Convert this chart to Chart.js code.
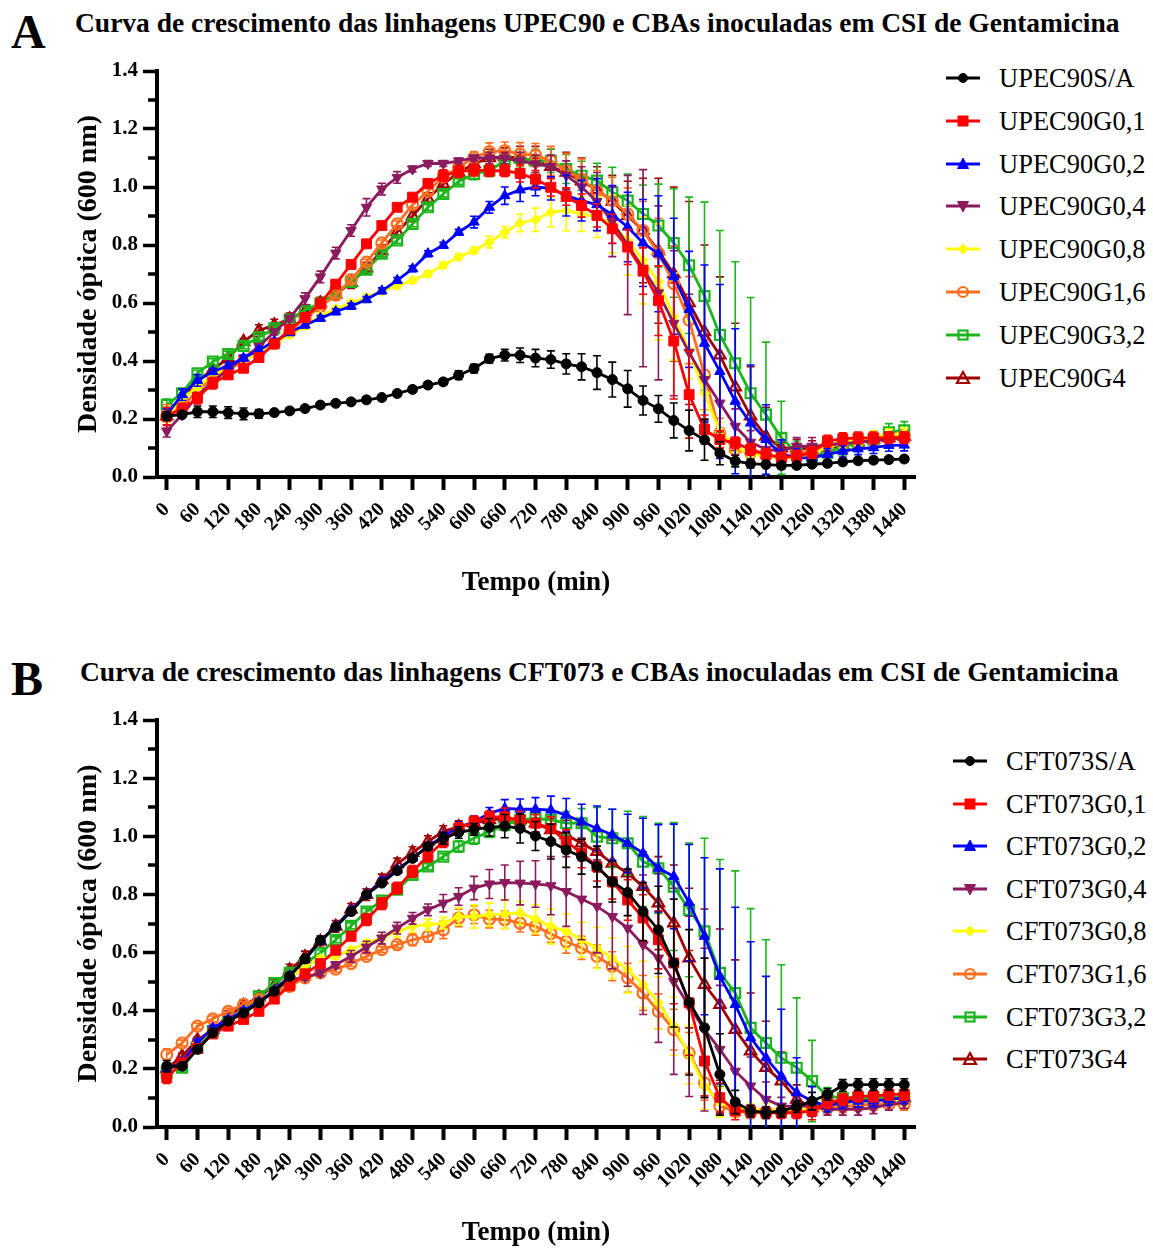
<!DOCTYPE html>
<html><head><meta charset="utf-8">
<script src="https://cdn.jsdelivr.net/npm/chart.js@4.4.1/dist/chart.umd.min.js"></script>
<style>
html,body{margin:0;padding:0;background:#fff;}
body{width:1153px;height:1250px;position:relative;overflow:hidden;font-family:"Liberation Serif","Times New Roman",serif;color:#000;}
.txt{position:absolute;white-space:nowrap;line-height:1;transform-origin:0 50%;}
.panel{font-weight:bold;font-size:48px;}
.title{font-weight:bold;font-size:27.5px;}
.legtext{font-size:26.5px;}
.legicon{position:absolute;}
canvas{position:absolute;left:0;}
</style></head><body>
<div class="txt panel" style="left:11px;top:8px">A</div>
<div class="txt title" style="left:75px;top:9px">Curva de crescimento das linhagens UPEC90 e CBAs inoculadas em CSI de Gentamicina</div>
<div class="txt panel" style="left:11px;top:655px">B</div>
<div class="txt title" style="left:80px;top:658px">Curva de crescimento das linhagens CFT073 e CBAs inoculadas em CSI de Gentamicina</div>
<canvas id="cA" width="935" height="600" style="top:0px"></canvas>
<canvas id="cB" width="935" height="600" style="top:650px"></canvas>
<div id="legA"></div>
<div id="legB"></div>
<script>
// ---------- DATA ----------
const TIMES = [0,30,60,90,120,150,180,210,240,270,300,330,360,390,420,450,480,510,540,570,600,630,660,690,720,750,780,810,840,870,900,930,960,990,1020,1050,1080,1110,1140,1170,1200,1230,1260,1290,1320,1350,1380,1410,1440];
const X_TICKS = [0,60,120,180,240,300,360,420,480,540,600,660,720,780,840,900,960,1020,1080,1140,1200,1260,1320,1380,1440];
const Y_MINOR = [0.1,0.3,0.5,0.7,0.9,1.1,1.3];

const NAMES_A = ['UPEC90S/A','UPEC90G0,1','UPEC90G0,2','UPEC90G0,4','UPEC90G0,8','UPEC90G1,6','UPEC90G3,2','UPEC90G4'];
const NAMES_B = ['CFT073S/A','CFT073G0,1','CFT073G0,2','CFT073G0,4','CFT073G0,8','CFT073G1,6','CFT073G3,2','CFT073G4'];

// Panel A means
const A_SA = [0.21,0.215,0.225,0.225,0.222,0.218,0.218,0.222,0.228,0.236,
 0.248,0.254,0.259,0.266,0.274,0.288,0.302,0.317,0.328,0.351,
 0.374,0.408,0.42,0.42,0.41,0.405,0.39,0.38,0.36,0.336,
 0.304,0.264,0.235,0.195,0.16,0.128,0.082,0.055,0.046,0.043,
 0.04,0.04,0.044,0.047,0.052,0.056,0.058,0.06,0.062];
const A_G01 = [0.21,0.235,0.272,0.324,0.352,0.375,0.412,0.459,0.509,0.55,
 0.598,0.665,0.733,0.804,0.867,0.93,0.965,1.012,1.039,1.053,
 1.058,1.056,1.056,1.047,1.027,0.999,0.967,0.936,0.902,0.856,
 0.793,0.71,0.608,0.469,0.284,0.164,0.129,0.118,0.095,0.078,
 0.066,0.072,0.084,0.124,0.132,0.135,0.135,0.136,0.136];
const A_G02 = [0.215,0.284,0.333,0.364,0.383,0.41,0.438,0.467,0.498,0.524,
 0.547,0.57,0.589,0.612,0.642,0.678,0.718,0.77,0.799,0.844,
 0.879,0.93,0.97,0.99,1.0,0.995,0.97,0.953,0.939,0.905,
 0.862,0.807,0.77,0.692,0.578,0.461,0.364,0.261,0.186,0.129,
 0.078,0.066,0.066,0.078,0.089,0.097,0.101,0.109,0.11];
const A_G04 = [0.158,0.215,0.28,0.33,0.37,0.41,0.45,0.5,0.547,0.615,
 0.69,0.772,0.85,0.93,0.993,1.033,1.062,1.081,1.081,1.09,
 1.1,1.1,1.1,1.09,1.08,1.07,1.04,1.0,0.95,0.88,
 0.8,0.72,0.635,0.53,0.43,0.336,0.255,0.175,0.12,0.095,
 0.09,0.106,0.106,0.11,0.115,0.12,0.125,0.13,0.135];
const A_G08 = [0.21,0.27,0.31,0.35,0.38,0.4,0.43,0.46,0.49,0.52,
 0.555,0.58,0.6,0.62,0.64,0.66,0.678,0.701,0.73,0.759,
 0.781,0.81,0.844,0.876,0.887,0.913,0.919,0.907,0.896,0.873,
 0.816,0.747,0.673,0.553,0.438,0.289,0.158,0.106,0.078,0.072,
 0.066,0.066,0.084,0.1,0.12,0.13,0.14,0.145,0.15];
const A_G16 = [0.21,0.24,0.3,0.34,0.37,0.4,0.43,0.46,0.5,0.547,
 0.587,0.627,0.681,0.741,0.807,0.873,0.939,0.985,1.035,1.068,
 1.102,1.122,1.125,1.113,1.11,1.09,1.056,1.027,0.987,0.953,
 0.907,0.85,0.772,0.667,0.541,0.352,0.152,0.095,0.085,0.075,
 0.07,0.08,0.09,0.11,0.12,0.125,0.13,0.135,0.14];
const A_G32 = [0.249,0.289,0.358,0.398,0.424,0.452,0.482,0.513,0.543,0.576,
 0.598,0.635,0.673,0.715,0.77,0.816,0.873,0.93,0.976,1.019,
 1.045,1.056,1.09,1.1,1.09,1.09,1.062,1.039,1.022,0.982,
 0.953,0.907,0.867,0.807,0.73,0.624,0.49,0.392,0.289,0.215,
 0.135,0.084,0.072,0.084,0.106,0.118,0.129,0.154,0.161];
const A_G4 = [0.21,0.27,0.33,0.37,0.41,0.467,0.505,0.524,0.545,0.57,
 0.6,0.63,0.67,0.72,0.78,0.845,0.9,0.96,1.01,1.05,
 1.08,1.1,1.105,1.1,1.09,1.07,1.05,1.02,0.99,0.95,
 0.9,0.85,0.78,0.7,0.6,0.5,0.42,0.31,0.21,0.14,
 0.1,0.1,0.095,0.1,0.11,0.12,0.13,0.135,0.14];

// Panel A standard deviations
const A_SA_SD = [0.015,0.01,0.02,0.02,0.02,0.02,0.015,0.01,0.01,0.01,
 0.01,0.01,0.01,0.01,0.01,0.01,0.01,0.01,0.01,0.015,
 0.015,0.015,0.02,0.025,0.03,0.03,0.035,0.045,0.058,0.06,
 0.063,0.05,0.046,0.06,0.07,0.07,0.04,0.02,0.015,0.01,
 0.01,0.01,0.01,0.01,0.01,0.01,0.01,0.01,0.01];
const A_G01_SD = [0.03,0.02,0.02,0.02,0.01,0.01,0.01,0.01,0.01,0.01,
 0.01,0.01,0.01,0.01,0.01,0.01,0.01,0.01,0.02,0.02,
 0.02,0.02,0.02,0.03,0.03,0.03,0.03,0.04,0.04,0.05,
 0.06,0.08,0.12,0.2,0.15,0.05,0.03,0.02,0.02,0.02,
 0.02,0.02,0.02,0.02,0.02,0.02,0.02,0.02,0.02];
const A_G02_SD = [0.02,0.02,0.02,0.01,0.01,0.01,0.01,0.01,0.01,0.01,
 0.01,0.01,0.01,0.01,0.01,0.01,0.01,0.01,0.01,0.01,
 0.02,0.02,0.03,0.04,0.03,0.04,0.07,0.07,0.09,0.1,
 0.12,0.15,0.2,0.2,0.2,0.27,0.3,0.25,0.2,0.12,
 0.05,0.03,0.02,0.02,0.02,0.02,0.02,0.02,0.02];
const A_G04_SD = [0.02,0.01,0.01,0.01,0.01,0.01,0.01,0.01,0.01,0.02,
 0.02,0.02,0.02,0.03,0.02,0.02,0.01,0.01,0.01,0.01,
 0.01,0.02,0.02,0.03,0.03,0.04,0.05,0.07,0.1,0.12,
 0.24,0.34,0.3,0.25,0.2,0.15,0.1,0.06,0.04,0.03,
 0.03,0.03,0.03,0.02,0.02,0.02,0.02,0.02,0.02];
const A_G08_SD = [0.02,0.01,0.01,0.01,0.01,0.01,0.01,0.01,0.01,0.01,
 0.01,0.01,0.01,0.01,0.01,0.01,0.01,0.01,0.01,0.01,
 0.01,0.02,0.02,0.03,0.04,0.05,0.07,0.06,0.07,0.1,
 0.12,0.15,0.2,0.15,0.1,0.06,0.03,0.02,0.02,0.02,
 0.02,0.02,0.02,0.02,0.02,0.02,0.02,0.02,0.02];
const A_G16_SD = [0.04,0.02,0.02,0.01,0.01,0.01,0.01,0.01,0.01,0.01,
 0.01,0.01,0.01,0.01,0.01,0.01,0.01,0.01,0.01,0.01,
 0.02,0.03,0.03,0.04,0.04,0.05,0.06,0.07,0.07,0.08,
 0.09,0.1,0.12,0.13,0.15,0.12,0.05,0.02,0.02,0.02,
 0.02,0.02,0.02,0.02,0.02,0.02,0.02,0.02,0.02];
const A_G32_SD = [0.02,0.01,0.01,0.01,0.01,0.01,0.01,0.01,0.01,0.01,
 0.01,0.01,0.01,0.01,0.01,0.01,0.01,0.01,0.01,0.01,
 0.02,0.02,0.03,0.03,0.04,0.04,0.05,0.05,0.06,0.086,
 0.092,0.1,0.143,0.187,0.235,0.324,0.36,0.35,0.33,0.25,
 0.126,0.04,0.03,0.03,0.03,0.03,0.03,0.03,0.03];
const A_G4_SD = [0.02,0.01,0.01,0.01,0.01,0.01,0.02,0.02,0.02,0.02,
 0.02,0.02,0.02,0.02,0.02,0.02,0.02,0.02,0.02,0.02,
 0.02,0.03,0.03,0.04,0.05,0.06,0.07,0.08,0.08,0.09,
 0.12,0.18,0.25,0.3,0.35,0.3,0.27,0.22,0.17,0.1,
 0.05,0.03,0.03,0.02,0.02,0.02,0.02,0.02,0.02];

// Panel B means
const B_SA = [0.209,0.209,0.267,0.324,0.364,0.392,0.427,0.467,0.518,0.578,
 0.642,0.688,0.741,0.799,0.839,0.882,0.924,0.965,0.993,1.013,
 1.024,1.031,1.035,1.027,1.001,0.982,0.953,0.93,0.896,0.844,
 0.807,0.741,0.678,0.564,0.429,0.341,0.181,0.086,0.055,0.049,
 0.055,0.07,0.089,0.112,0.143,0.146,0.146,0.146,0.146];
const B_G01 = [0.17,0.22,0.27,0.32,0.347,0.37,0.398,0.44,0.486,0.527,
 0.562,0.608,0.656,0.713,0.768,0.822,0.879,0.932,0.982,1.027,
 1.05,1.067,1.067,1.056,1.045,1.027,0.982,0.942,0.896,0.844,
 0.781,0.719,0.644,0.564,0.427,0.227,0.101,0.055,0.055,0.049,
 0.049,0.049,0.055,0.084,0.095,0.106,0.106,0.112,0.112];
const B_G02 = [0.2,0.22,0.29,0.34,0.37,0.4,0.43,0.47,0.52,0.575,
 0.64,0.69,0.745,0.8,0.845,0.885,0.925,0.965,1.0,1.03,
 1.05,1.079,1.096,1.093,1.093,1.09,1.073,1.05,1.027,1.005,
 0.976,0.942,0.89,0.862,0.772,0.656,0.518,0.421,0.307,0.238,
 0.175,0.118,0.089,0.072,0.084,0.089,0.09,0.095,0.1];
const B_G04 = [0.19,0.23,0.295,0.335,0.37,0.398,0.432,0.467,0.507,0.515,
 0.53,0.558,0.587,0.619,0.65,0.684,0.718,0.747,0.77,0.793,
 0.822,0.836,0.841,0.839,0.836,0.83,0.81,0.784,0.759,0.724,
 0.684,0.627,0.581,0.501,0.415,0.335,0.267,0.192,0.141,0.095,
 0.072,0.072,0.072,0.061,0.061,0.061,0.066,0.078,0.084];
const B_G08 = [0.19,0.22,0.29,0.335,0.37,0.4,0.43,0.465,0.51,0.553,
 0.58,0.587,0.61,0.633,0.65,0.673,0.69,0.696,0.701,0.724,
 0.724,0.73,0.733,0.736,0.715,0.69,0.673,0.644,0.616,0.581,
 0.541,0.49,0.427,0.347,0.249,0.141,0.084,0.066,0.061,0.06,
 0.06,0.06,0.066,0.072,0.08,0.085,0.09,0.095,0.095];
const B_G16 = [0.249,0.289,0.347,0.372,0.398,0.421,0.438,0.463,0.484,0.513,
 0.53,0.543,0.562,0.587,0.61,0.627,0.644,0.656,0.678,0.719,
 0.73,0.715,0.713,0.701,0.69,0.665,0.638,0.616,0.587,0.553,
 0.513,0.461,0.398,0.335,0.255,0.152,0.072,0.055,0.049,0.05,
 0.05,0.055,0.06,0.065,0.07,0.075,0.078,0.078,0.078];
const B_G32 = [0.187,0.204,0.272,0.33,0.37,0.4,0.45,0.495,0.53,0.564,
 0.598,0.644,0.692,0.741,0.779,0.816,0.867,0.896,0.93,0.965,
 0.993,1.016,1.039,1.056,1.062,1.056,1.045,1.045,0.999,0.993,
 0.976,0.913,0.89,0.827,0.747,0.673,0.53,0.461,0.341,0.289,
 0.238,0.204,0.158,0.106,0.1,0.1,0.1,0.1,0.1];
const B_G4 = [0.2,0.244,0.3,0.335,0.38,0.418,0.447,0.486,0.54,0.585,
 0.638,0.69,0.749,0.799,0.85,0.905,0.944,0.982,1.016,1.033,
 1.045,1.056,1.062,1.056,1.045,1.022,1.005,0.976,0.947,0.907,
 0.873,0.827,0.77,0.701,0.581,0.49,0.421,0.335,0.261,0.204,
 0.158,0.095,0.066,0.084,0.09,0.095,0.1,0.1,0.1];

// Panel B standard deviations
const B_SA_SD = [0.02,0.01,0.01,0.01,0.01,0.01,0.01,0.01,0.01,0.01,
 0.01,0.01,0.01,0.01,0.01,0.01,0.01,0.01,0.02,0.02,
 0.02,0.03,0.04,0.05,0.05,0.06,0.06,0.06,0.07,0.07,
 0.08,0.1,0.15,0.22,0.25,0.24,0.14,0.04,0.02,0.02,
 0.02,0.02,0.03,0.02,0.02,0.02,0.02,0.02,0.02];
const B_G01_SD = [0.02,0.01,0.01,0.01,0.01,0.01,0.01,0.01,0.01,0.01,
 0.01,0.01,0.01,0.02,0.02,0.02,0.02,0.02,0.02,0.02,
 0.02,0.02,0.03,0.03,0.03,0.04,0.04,0.05,0.05,0.06,
 0.07,0.08,0.1,0.14,0.18,0.12,0.05,0.03,0.02,0.02,
 0.02,0.02,0.03,0.02,0.02,0.02,0.02,0.02,0.02];
const B_G02_SD = [0.02,0.01,0.01,0.01,0.01,0.01,0.01,0.01,0.01,0.01,
 0.01,0.01,0.01,0.01,0.01,0.01,0.01,0.01,0.01,0.02,
 0.02,0.02,0.03,0.035,0.04,0.048,0.057,0.06,0.077,0.088,
 0.1,0.12,0.15,0.18,0.2,0.27,0.37,0.335,0.33,0.28,
 0.23,0.12,0.05,0.02,0.02,0.02,0.02,0.02,0.02];
const B_G04_SD = [0.02,0.01,0.01,0.01,0.01,0.01,0.01,0.01,0.01,0.01,
 0.01,0.01,0.02,0.02,0.02,0.02,0.02,0.02,0.03,0.03,
 0.04,0.05,0.06,0.075,0.08,0.1,0.12,0.14,0.16,0.18,
 0.2,0.24,0.29,0.32,0.31,0.28,0.22,0.15,0.1,0.06,
 0.03,0.02,0.02,0.02,0.02,0.02,0.02,0.02,0.02];
const B_G08_SD = [0.02,0.01,0.01,0.01,0.01,0.01,0.01,0.01,0.01,0.01,
 0.01,0.01,0.01,0.01,0.01,0.02,0.02,0.02,0.02,0.03,
 0.04,0.04,0.05,0.04,0.05,0.06,0.06,0.06,0.07,0.07,
 0.08,0.08,0.09,0.1,0.1,0.08,0.05,0.03,0.02,0.02,
 0.02,0.02,0.02,0.02,0.02,0.02,0.02,0.02,0.02];
const B_G16_SD = [0.02,0.01,0.01,0.01,0.01,0.01,0.01,0.01,0.01,0.01,
 0.01,0.01,0.01,0.01,0.01,0.01,0.02,0.02,0.03,0.03,
 0.03,0.03,0.03,0.03,0.03,0.03,0.04,0.04,0.04,0.05,
 0.05,0.06,0.06,0.07,0.07,0.06,0.03,0.02,0.02,0.02,
 0.02,0.02,0.02,0.02,0.02,0.02,0.02,0.02,0.02];
const B_G32_SD = [0.02,0.01,0.01,0.01,0.01,0.01,0.01,0.01,0.01,0.01,
 0.01,0.01,0.01,0.01,0.01,0.01,0.01,0.01,0.01,0.02,
 0.02,0.02,0.02,0.03,0.03,0.03,0.04,0.05,0.1,0.1,
 0.11,0.155,0.155,0.22,0.23,0.32,0.39,0.42,0.41,0.355,
 0.32,0.24,0.14,0.03,0.02,0.02,0.02,0.02,0.02];
const B_G4_SD = [0.02,0.01,0.01,0.01,0.02,0.02,0.02,0.02,0.02,0.02,
 0.02,0.02,0.02,0.02,0.02,0.02,0.02,0.02,0.02,0.02,
 0.02,0.02,0.03,0.03,0.03,0.04,0.05,0.06,0.07,0.08,
 0.1,0.12,0.16,0.2,0.24,0.26,0.26,0.24,0.2,0.16,
 0.1,0.05,0.03,0.02,0.02,0.02,0.02,0.02,0.02];

const MEANS_A = [A_SA,A_G01,A_G02,A_G04,A_G08,A_G16,A_G32,A_G4];
const SDS_A = [A_SA_SD,A_G01_SD,A_G02_SD,A_G04_SD,A_G08_SD,A_G16_SD,A_G32_SD,A_G4_SD];
const MEANS_B = [B_SA,B_G01,B_G02,B_G04,B_G08,B_G16,B_G32,B_G4];
const SDS_B = [B_SA_SD,B_G01_SD,B_G02_SD,B_G04_SD,B_G08_SD,B_G16_SD,B_G32_SD,B_G4_SD];

// ---------- STYLE ----------
const COLORS = ['#000000','#FF0000','#0000FF','#8B1A5E','#FFFF00','#FF6F1F','#1DB51D','#A00000'];
const OPEN = [false,false,false,false,false,true,true,true];
const STYLES = ['circle','rect','triangle','triangle','rectRot','circle','rect','triangle'];
const ROTS = [0,0,0,180,0,0,0,0];
const RADII = [5,7,6,6,5,5.5,7,6.5];
const FONT = '"Liberation Serif","Times New Roman",serif';

const errorBars = {
  id:'errorBars',
  beforeDatasetDraw(chart,args){
    const ds = chart.data.datasets[args.index];
    if(!ds.sd) return;
    const ys = chart.scales.y, ctx = chart.ctx, ca = chart.chartArea;
    ctx.save();
    ctx.beginPath(); ctx.rect(ca.left-10, ca.top, ca.right-ca.left+20, ca.bottom-ca.top); ctx.clip();
    ctx.strokeStyle = ds.borderColor; ctx.lineWidth = 1.6;
    args.meta.data.forEach((pt,i)=>{
      const v = ds.data[i].y, e = ds.sd[i];
      if(!e) return;
      const yt = ys.getPixelForValue(v+e), yb = ys.getPixelForValue(v-e), x = pt.x;
      ctx.beginPath();
      ctx.moveTo(x,yt); ctx.lineTo(x,yb);
      ctx.moveTo(x-4,yt); ctx.lineTo(x+4,yt);
      ctx.moveTo(x-4,yb); ctx.lineTo(x+4,yb);
      ctx.stroke();
    });
    ctx.restore();
  }
};
const minorTicks = {
  id:'minorTicks',
  afterDraw(chart){
    const y = chart.scales.y, ctx = chart.ctx, left = chart.chartArea.left;
    ctx.save(); ctx.strokeStyle='#000'; ctx.lineWidth=3.5;
    Y_MINOR.forEach(v=>{
      const py = Math.round(y.getPixelForValue(v));
      ctx.beginPath(); ctx.moveTo(left-9,py); ctx.lineTo(left,py); ctx.stroke();
    });
    ctx.restore();
  }
};

function makeChart(id, names, means, sds, topPad){
  const datasets = names.map((n,k)=>({
    label:n,
    data: TIMES.map((t,i)=>({x:t, y:means[k][i]})),
    sd: sds[k],
    borderColor: COLORS[k], backgroundColor: COLORS[k],
    pointBackgroundColor: OPEN[k] ? 'rgba(255,255,255,0)' : COLORS[k],
    pointBorderColor: COLORS[k],
    pointStyle: STYLES[k], rotation: ROTS[k], pointRotation: ROTS[k],
    pointRadius: RADII[k], pointHoverRadius: RADII[k],
    pointBorderWidth: OPEN[k] ? 2.2 : 1,
    borderWidth: 2.8, tension: 0, fill:false
  }));
  return new Chart(document.getElementById(id), {
    type:'line',
    data:{datasets},
    plugins:[errorBars, minorTicks],
    options:{
      responsive:false, animation:false, devicePixelRatio:1,
      layout:{padding:{left:0, top:topPad, right:20, bottom:0}},
      plugins:{legend:{display:false}, tooltip:{enabled:false}, title:{display:false}},
      scales:{
        x:{
          type:'linear', min:-19, max:1461,
          afterBuildTicks(s){ s.ticks = X_TICKS.map(v=>({value:v})); },
          ticks:{autoSkip:false, minRotation:45, maxRotation:45, padding:8, color:'#000',
                 font:{family:FONT, weight:'bold', size:20}, callback:v=>String(v)},
          grid:{drawOnChartArea:false, drawTicks:true, tickLength:13, tickWidth:4, tickColor:'#000'},
          border:{display:true, color:'#000', width:4},
          title:{display:true, text:'Tempo (min)', color:'#000', font:{family:FONT, weight:'bold', size:27}, padding:{top:0,bottom:1}},
          afterFit(s){ s.height = 123; }
        },
        y:{
          type:'linear', min:0, max:1.4,
          ticks:{stepSize:0.2, color:'#000', padding:5, font:{family:FONT, weight:'bold', size:21},
                 callback:v=>Number(v).toFixed(1)},
          grid:{drawOnChartArea:false, drawTicks:true, tickLength:14, tickWidth:3.5, tickColor:'#000'},
          border:{display:true, color:'#000', width:4},
          title:{display:true, text:'Densidade óptica (600 nm)', color:'#000', font:{family:FONT, weight:'bold', size:28}, padding:{top:72,bottom:0}},
          afterFit(s){ s.width = 157; }
        }
      }
    }
  });
}

function icon(k){
  const c = COLORS[k], f = OPEN[k] ? 'none' : c, sw = OPEN[k] ? 2.2 : 1;
  let m = '';
  switch(k){
    case 0: m = `<circle cx="17" cy="9" r="4.5" fill="${f}" stroke="${c}" stroke-width="${sw}"/>`; break;
    case 1: m = `<rect x="12" y="4" width="10" height="10" fill="${f}" stroke="${c}" stroke-width="${sw}"/>`; break;
    case 2: m = `<polygon points="17,3 22.5,13.5 11.5,13.5" fill="${f}" stroke="${c}" stroke-width="${sw}"/>`; break;
    case 3: m = `<polygon points="11.5,4.5 22.5,4.5 17,15" fill="${f}" stroke="${c}" stroke-width="${sw}"/>`; break;
    case 4: m = `<polygon points="17,4 22,9 17,14 12,9" fill="${f}" stroke="${c}" stroke-width="${sw}"/>`; break;
    case 5: m = `<circle cx="17" cy="9" r="5" fill="${f}" stroke="${c}" stroke-width="${sw}"/>`; break;
    case 6: m = `<rect x="12.5" y="4.5" width="9" height="9" fill="${f}" stroke="${c}" stroke-width="${sw}"/>`; break;
    case 7: m = `<polygon points="17,3 23,14 11,14" fill="${f}" stroke="${c}" stroke-width="${sw}"/>`; break;
  }
  return `<svg width="34" height="18" viewBox="0 0 34 18"><line x1="0" y1="9" x2="34" y2="9" stroke="${c}" stroke-width="3"/>${m}</svg>`;
}
function makeLegend(id, names, lineX, textX, y0, dy){
  const el = document.getElementById(id);
  let h = '';
  names.forEach((n,k)=>{
    const cy = y0 + dy*k;
    h += `<div class="legicon" style="left:${lineX}px;top:${cy-9}px">${icon(k)}</div>`;
    h += `<div class="txt legtext" style="left:${textX}px;top:${cy-13}px">${n}</div>`;
  });
  el.innerHTML = h;
}

makeChart('cA', NAMES_A, MEANS_A, SDS_A, 71);
makeChart('cB', NAMES_B, MEANS_B, SDS_B, 70);
makeLegend('legA', NAMES_A, 946, 999, 78, 42.8);
makeLegend('legB', NAMES_B, 953, 1006, 761, 42.6);
</script>
</body></html>
